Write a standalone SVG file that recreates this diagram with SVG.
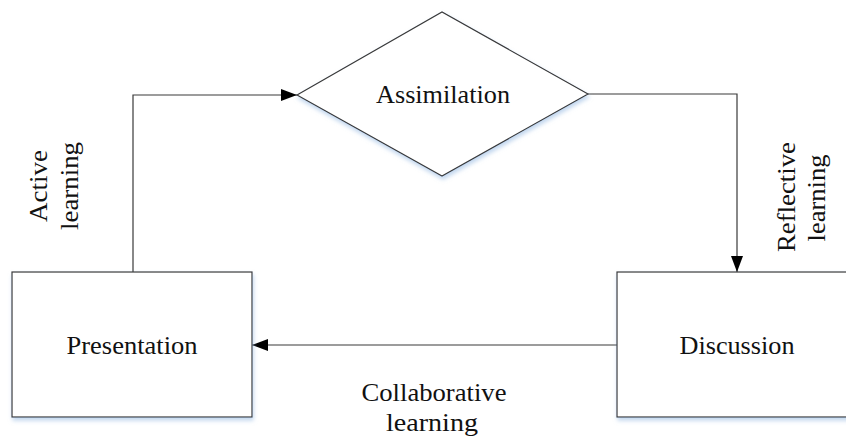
<svg xmlns="http://www.w3.org/2000/svg" width="846" height="439" viewBox="0 0 846 439">
<style>
.node{fill:#fff;stroke:#3a3a3a;stroke-width:1.2;filter:url(#sh)}
.conn{fill:none;stroke:#3a3a3a;stroke-width:1.2}
text{font-family:"Liberation Serif","Times New Roman",serif;font-size:26px;fill:#111}
.c{text-anchor:middle}
</style>
<defs>
<filter id="sh" x="-10%" y="-10%" width="130%" height="130%">
<feDropShadow dx="1" dy="3" stdDeviation="2" flood-color="#8fb4e0" flood-opacity="0.55"/>
</filter>
<marker id="ah" viewBox="0 0 16 12" refX="16" refY="6" markerWidth="16" markerHeight="12" markerUnits="userSpaceOnUse" orient="auto">
<path d="M0,0 L16,6 L0,12 Z" fill="#000"/>
</marker>
</defs>
<g id="connectors">
<path class="conn" d="M133,272 V95 H297" marker-end="url(#ah)"/>
<path class="conn" d="M588,94 H737 V272" marker-end="url(#ah)"/>
<path class="conn" d="M617,345 H252" marker-end="url(#ah)"/>
</g>
<g id="assimilation">
<polygon class="node" points="297,95 442,12 588,94 442,176"/>
<text class="c" x="443" y="103" textLength="134" lengthAdjust="spacingAndGlyphs">Assimilation</text>
</g>
<g id="presentation">
<rect class="node" x="12" y="272" width="240" height="145"/>
<text class="c" x="132" y="354" textLength="131" lengthAdjust="spacingAndGlyphs">Presentation</text>
</g>
<g id="discussion">
<rect class="node" x="617" y="272" width="240" height="145"/>
<text class="c" x="737" y="354" textLength="115" lengthAdjust="spacingAndGlyphs">Discussion</text>
</g>
<g id="labels">
<text class="c" transform="translate(47,186) rotate(-90)" textLength="72" lengthAdjust="spacingAndGlyphs">Active</text>
<text class="c" transform="translate(78,186) rotate(-90)" textLength="88" lengthAdjust="spacingAndGlyphs">learning</text>
<text class="c" transform="translate(795,197) rotate(-90)" textLength="110" lengthAdjust="spacingAndGlyphs">Reflective</text>
<text class="c" transform="translate(825,198) rotate(-90)" textLength="87" lengthAdjust="spacingAndGlyphs">learning</text>
<text class="c" x="434" y="401" textLength="145" lengthAdjust="spacingAndGlyphs">Collaborative</text>
<text class="c" x="432" y="431" textLength="92" lengthAdjust="spacingAndGlyphs">learning</text>
</g>
</svg>
